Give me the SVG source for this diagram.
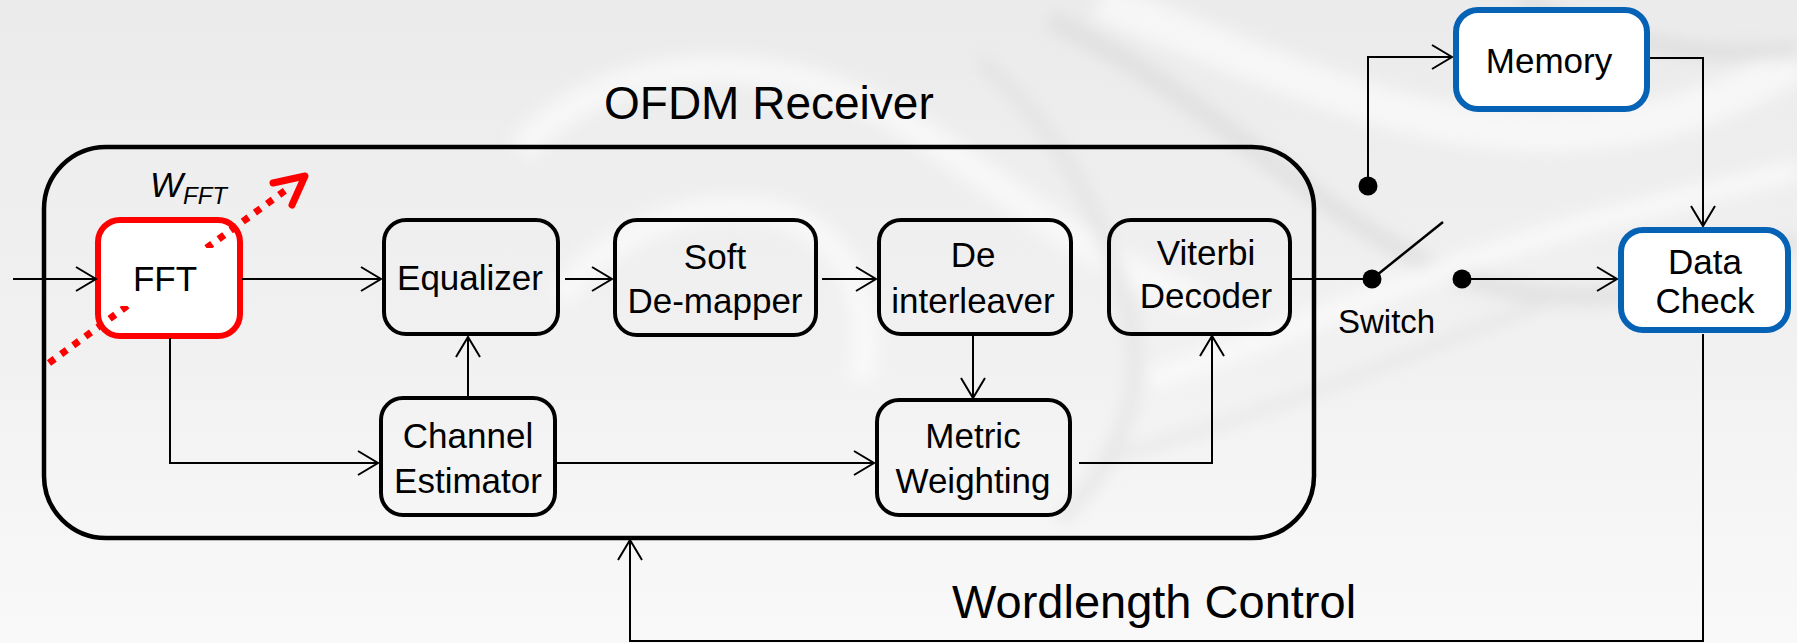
<svg xmlns="http://www.w3.org/2000/svg" width="1797" height="643" viewBox="0 0 1797 643">
  <defs>
    <linearGradient id="bg" x1="0" y1="0" x2="0" y2="1">
      <stop offset="0" stop-color="#ebebeb"/>
      <stop offset="0.55" stop-color="#f1f1f1"/>
      <stop offset="1" stop-color="#f9f9f9"/>
    </linearGradient>
    <filter id="soft" x="-20%" y="-20%" width="140%" height="140%">
      <feGaussianBlur stdDeviation="8"/>
    </filter>
    <marker id="arr" viewBox="-22 -14 24 28" markerWidth="24" markerHeight="28" markerUnits="userSpaceOnUse" refX="0" refY="0" orient="auto">
      <path d="M-20,-12 L0,0 L-20,12" fill="none" stroke="#000" stroke-width="2"/>
    </marker>
    <style>
      .box { fill: none; stroke: #000; stroke-width: 4; }
      .blue { fill: #ffffff; stroke: #0562b5; stroke-width: 6; }
      .red { fill: #ffffff; stroke: #ff0000; stroke-width: 6; }
      .lbl { font-family: "Liberation Sans", Arial, sans-serif; font-size: 35px; fill: #000; text-anchor: middle; }
      .big { font-family: "Liberation Sans", Arial, sans-serif; font-size: 46px; fill: #000; }
      .wire { fill: none; stroke: #000; stroke-width: 2; }
      .arrow { fill: none; stroke: #000; stroke-width: 2; marker-end: url(#arr); }
      .dot { fill: #000; }
    </style>
  </defs>

  <g id="background">
    <rect x="0" y="0" width="1797" height="643" fill="url(#bg)"/>
    <g filter="url(#soft)" fill="none" opacity="0.55">
      <path d="M520,150 C600,60 760,40 900,120 C1000,180 1080,260 1200,300" stroke="#ffffff" stroke-width="30"/>
      <path d="M1050,20 C1200,90 1300,200 1420,260 C1550,320 1680,300 1797,240" stroke="#d6d6d6" stroke-width="18"/>
      <path d="M1100,0 C1250,60 1380,120 1500,130 C1620,140 1720,110 1797,60" stroke="#ffffff" stroke-width="40"/>
      <path d="M1150,380 C1300,330 1450,260 1600,220 C1700,195 1760,180 1797,170" stroke="#ffffff" stroke-width="22"/>
      <path d="M1100,460 C1250,420 1400,360 1550,300" stroke="#dadada" stroke-width="8"/>
      <path d="M980,60 C1050,120 1100,200 1130,320 C1150,400 1110,470 1060,520" stroke="#dcdcdc" stroke-width="14"/>
      <path d="M560,300 C600,240 680,200 760,210 C840,220 880,300 860,380" stroke="#ffffff" stroke-width="26"/>
      <path d="M1520,0 C1600,40 1700,60 1797,50" stroke="#d2d2d2" stroke-width="14"/>
    </g>
  </g>

  <g id="ofdm-receiver">
    <rect x="44" y="147" width="1270" height="391" rx="62" ry="62" fill="none" stroke="#000" stroke-width="4.5"/>
    <text class="big" x="604" y="119">OFDM Receiver</text>
  </g>

  <g id="fft">
    <rect class="red" x="98" y="220" width="142" height="116" rx="22" ry="22"/>
  </g>

  <g id="wfft-arrow">
    <line x1="49" y1="363" x2="290" y2="187" stroke="#ff0000" stroke-width="7" stroke-dasharray="7 8"/>
    <polyline points="273,183 305,176 292,205" fill="none" stroke="#ff0000" stroke-width="7" stroke-linecap="round" stroke-linejoin="round"/>
  </g>

  <g id="fft-label">
    <rect x="112" y="248" width="108" height="58" fill="#ffffff"/>
    <text class="lbl" x="165" y="291">FFT</text>
  </g>

  <g id="wfft-label">
    <text x="150" y="197" font-family="Liberation Sans, Arial, sans-serif" font-style="italic" font-size="35" fill="#000">W<tspan font-size="24" dy="7">FFT</tspan></text>
  </g>

  <g id="connectors">
    <line class="arrow" x1="13" y1="279" x2="96" y2="279"/>
    <line class="arrow" x1="242" y1="279" x2="381" y2="279"/>
    <line class="arrow" x1="565" y1="279" x2="612" y2="279"/>
    <line class="arrow" x1="822" y1="279" x2="876" y2="279"/>
    <polyline class="arrow" points="170,338 170,463 378,463"/>
    <line class="arrow" x1="468" y1="396" x2="468" y2="337"/>
    <line class="arrow" x1="973" y1="336" x2="973" y2="398"/>
    <line class="arrow" x1="557" y1="463" x2="874" y2="463"/>
    <polyline class="arrow" points="1079,463 1212,463 1212,336"/>
    <line class="wire" x1="1292" y1="279" x2="1372" y2="279"/>
    <line x1="1372" y1="279" x2="1443" y2="222" stroke="#000" stroke-width="2.5"/>
    <line class="arrow" x1="1462" y1="279" x2="1617" y2="279"/>
    <polyline class="arrow" points="1368,186 1368,57 1452,57"/>
    <polyline class="arrow" points="1650,58 1703,58 1703,226"/>
    <polyline class="arrow" points="1703,334 1703,641 630,641 630,540"/>
  </g>

  <g id="switch">
    <circle class="dot" cx="1368" cy="186" r="9.5"/>
    <circle class="dot" cx="1372" cy="279" r="9.5"/>
    <circle class="dot" cx="1462" cy="279" r="9.5"/>
    <text x="1338" y="333" font-family="Liberation Sans, Arial, sans-serif" font-size="33" fill="#000">Switch</text>
  </g>

  <g id="equalizer">
    <rect class="box" x="384" y="220" width="174" height="114" rx="22"/>
    <text class="lbl" x="470" y="290">Equalizer</text>
  </g>

  <g id="soft-demapper">
    <rect class="box" x="615" y="220" width="201" height="115" rx="22"/>
    <text class="lbl" x="715" y="269">Soft</text>
    <text class="lbl" x="715" y="313">De-mapper</text>
  </g>

  <g id="deinterleaver">
    <rect class="box" x="879" y="220" width="192" height="114" rx="22"/>
    <text class="lbl" x="973" y="267">De</text>
    <text class="lbl" x="973" y="313">interleaver</text>
  </g>

  <g id="viterbi">
    <rect class="box" x="1109" y="220" width="181" height="114" rx="22"/>
    <text class="lbl" x="1206" y="265">Viterbi</text>
    <text class="lbl" x="1206" y="308">Decoder</text>
  </g>

  <g id="channel-estimator">
    <rect class="box" x="381" y="398" width="174" height="117" rx="22"/>
    <text class="lbl" x="468" y="448">Channel</text>
    <text class="lbl" x="468" y="493">Estimator</text>
  </g>

  <g id="metric-weighting">
    <rect class="box" x="877" y="400" width="193" height="115" rx="22"/>
    <text class="lbl" x="973" y="448">Metric</text>
    <text class="lbl" x="973" y="493">Weighting</text>
  </g>

  <g id="memory">
    <rect class="blue" x="1456" y="10" width="191" height="99" rx="22"/>
    <text class="lbl" x="1549" y="73">Memory</text>
  </g>

  <g id="data-check">
    <rect class="blue" x="1621" y="230" width="167" height="100" rx="22"/>
    <text class="lbl" x="1705" y="274">Data</text>
    <text class="lbl" x="1705" y="313">Check</text>
  </g>

  <g id="wordlength-label">
    <text class="big" x="952" y="618" font-size="47" style="font-size:47px">Wordlength Control</text>
  </g>
</svg>
